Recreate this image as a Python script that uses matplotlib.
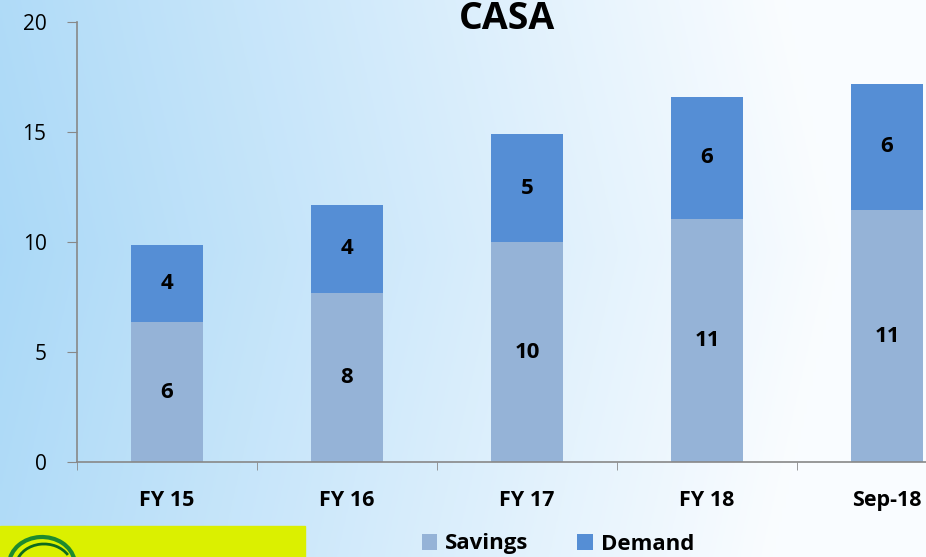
import numpy as np
import matplotlib.pyplot as plt
from matplotlib.patches import Rectangle, Arc

categories = ['FY 15', 'FY 16', 'FY 17', 'FY 18', 'Sep-18']
savings = [6.35, 7.7, 10.0, 11.05, 11.45]
demand = [3.5, 4.0, 4.9, 5.55, 5.75]
yticks = [0, 5, 10, 15, 20]

plt.rcParams['font.family'] = ['Open Sans', 'DejaVu Sans']

fig = plt.figure(figsize=(9.26, 5.57), dpi=100)

# fond en dégradé bleu clair -> blanc
bg = fig.add_axes([0, 0, 1, 1], zorder=-10)
gx = np.linspace(0, 1, 300)
gy = np.linspace(0, 1, 200)
X, Y = np.meshgrid(gx, gy)
t = np.clip(X * 1.1 + 0.15 * np.abs(Y - 0.55), 0, 1)
left_col = np.array([0.67, 0.85, 0.97])
right_col = np.array([0.98, 0.99, 1.0])
img = left_col[None, None, :] * (1 - t[..., None]) + right_col[None, None, :] * t[..., None]
bg.imshow(img, extent=[0, 1, 0, 1], aspect='auto', origin='lower')
bg.set_xlim(0, 1)
bg.set_ylim(0, 1)
bg.axis('off')

# bandeau jaune du logo en bas à gauche
bg.add_patch(Rectangle((0, 0), 305 / 926, 31 / 557, color='#DBF000', zorder=2))
bg.add_patch(Arc((42 / 926, -8 / 557), 66 / 926, 56 / 557, theta1=15, theta2=175,
                 color='#1E8A2E', lw=3, zorder=3))
bg.add_patch(Arc((44 / 926, -10 / 557), 56 / 926, 46 / 557, theta1=40, theta2=160,
                 color='#0E6A1E', lw=2, zorder=3))

ax = fig.add_axes([77 / 926, 95 / 557, 900 / 926, 440 / 557])
ax.patch.set_alpha(0)

x = np.arange(len(categories))
w = 0.405
b1 = ax.bar(x, savings, w, color='#95B3D7', label='Savings')
b2 = ax.bar(x, demand, w, bottom=savings, color='#558ED5', label='Demand')

for i in range(len(categories)):
    ax.text(x[i], savings[i] / 2, f'{round(savings[i])}', ha='center', va='center',
            fontsize=16, fontweight='bold')
    ax.text(x[i], savings[i] + demand[i] / 2, f'{round(demand[i])}', ha='center', va='center',
            fontsize=16, fontweight='bold')

ax.set_xlim(-0.5, len(categories) - 0.5)
ax.set_ylim(0, 20)
ax.set_yticks(yticks)
ax.set_yticklabels([str(v) for v in yticks], fontsize=15)
ax.set_xticks(x)
ax.set_xticklabels(categories, fontsize=15.5, fontweight='bold')
ax.set_xticks(np.arange(-0.5, len(categories), 1), minor=True)
ax.tick_params(axis='x', which='major', length=0, pad=20)
ax.tick_params(axis='x', which='minor', length=6, color='#888888', direction='out')
ax.tick_params(axis='y', length=7, color='#888888', pad=15)

for s in ['top', 'right']:
    ax.spines[s].set_visible(False)
for s in ['left', 'bottom']:
    ax.spines[s].set_color('#888888')
    ax.spines[s].set_linewidth(1.2)

fig.text(507 / 926, 1 - 29 / 557, 'CASA', ha='center', va='baseline', fontsize=27, fontweight='bold')

fig.legend(handles=[b1, b2], loc='center', bbox_to_anchor=(558 / 926, 1 - 544 / 557), ncol=2,
           frameon=False, prop={'size': 16, 'weight': 'bold'}, handlelength=0.7, handleheight=0.7,
           handletextpad=0.35, columnspacing=2.2)

fig.savefig('out.png', dpi=100)
